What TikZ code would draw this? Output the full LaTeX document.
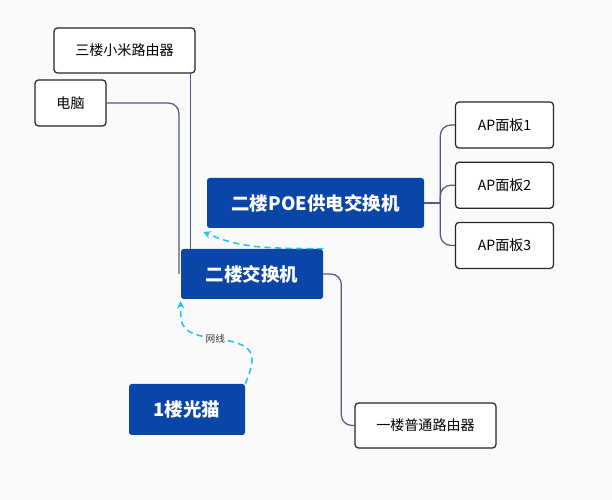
\documentclass[tikz,border=0pt]{standalone}
\usepackage{fontspec}
\setmainfont{Noto Sans CJK SC}
\usepackage{xcolor}
\usepackage{tikz}
\usetikzlibrary{arrows, positioning, calc}
\definecolor{bgcol}{HTML}{FAFAFA}
\definecolor{swblue}{HTML}{0A45A8}
\definecolor{linkcol}{HTML}{4E5B82}
\definecolor{cablecol}{HTML}{25C4EE}
\tikzstyle{device} = [rectangle, rounded corners=2pt, minimum width=2.82cm, minimum height=0.9cm, text centered, draw=black!85, line width=0.7pt, fill=white, font=\fontsize{8}{10}\selectfont]
\tikzstyle{swbox} = [rectangle, rounded corners=1.5pt, minimum height=1cm, text centered, fill=swblue, text=white, font=\fontsize{10.5}{12}\selectfont\bfseries]
\tikzstyle{link} = [linkcol, line width=0.7pt, rounded corners=6pt]
\tikzstyle{cable} = [cablecol, line width=0.9pt, dash pattern=on 3.5pt off 2.5pt, ->, >=stealth]
\tikzstyle{lbl} = [fill=bgcol, inner sep=0.5pt, text=black!80, font=\fontsize{5.5}{6}\selectfont]

\begin{document}
\begin{tikzpicture}[node distance=0.26cm]
  \fill[bgcol] (0,0) rectangle (12.24,-10);
  \useasboundingbox (0,0) rectangle (12.24,-10);

  \node (router3) [device] at (2.49,-1.01) {三楼小米路由器};
  \node (pc) [device, minimum width=1.42cm, minimum height=0.92cm] at (1.41,-2.06) {电脑};
  \node (poe) [swbox, minimum width=4.34cm] at (6.31,-4.06) {二楼POE供电交换机};
  \node (sw2) [swbox, minimum width=2.84cm] at (5.04,-5.48) {二楼交换机};
  \node (modem) [swbox, minimum width=2.32cm, minimum height=1.02cm] at (3.74,-8.19) {1楼光猫};
  \node (ap1) [device, minimum width=1.96cm, minimum height=0.92cm] at (10.09,-2.5) {AP面板1};
  \node (ap2) [device, minimum width=1.96cm, minimum height=0.92cm, below=of ap1] {AP面板2};
  \node (ap3) [device, minimum width=1.96cm, minimum height=0.92cm, below=of ap2] {AP面板3};
  \node (router1) [device] at (8.51,-8.51) {一楼普通路由器};

  \draw[link] ([xshift=-0.1cm]router3.south east) -- ([xshift=-0.1cm]router3.south east |- sw2.north);
  \draw[link] (pc.east) -| ([xshift=-1pt]sw2.west);
  \draw[link] (sw2.east) -- ++(0.36,0) |- (router1.west);
  \draw[link] (poe.east) -- ++(0.32,0) coordinate (hub);
  \foreach \ap in {ap1,ap2,ap3}
    \draw[link] (hub) |- (\ap.west);

  \draw[cable] (sw2.north east) .. controls +(-1.3,0) and +(0.7,-0.3) .. ([xshift=-2pt,yshift=-2pt]poe.south west);
  \draw[cable] (modem.north east) .. controls +(0.25,0.6) and +(0.8,-0.1) .. ++(-0.6,0.9) node[lbl] (wire) {网线}
    .. controls +(-0.7,0.1) and +(0,-0.5) .. ([yshift=-1pt]sw2.south west);
\end{tikzpicture}
\end{document}
